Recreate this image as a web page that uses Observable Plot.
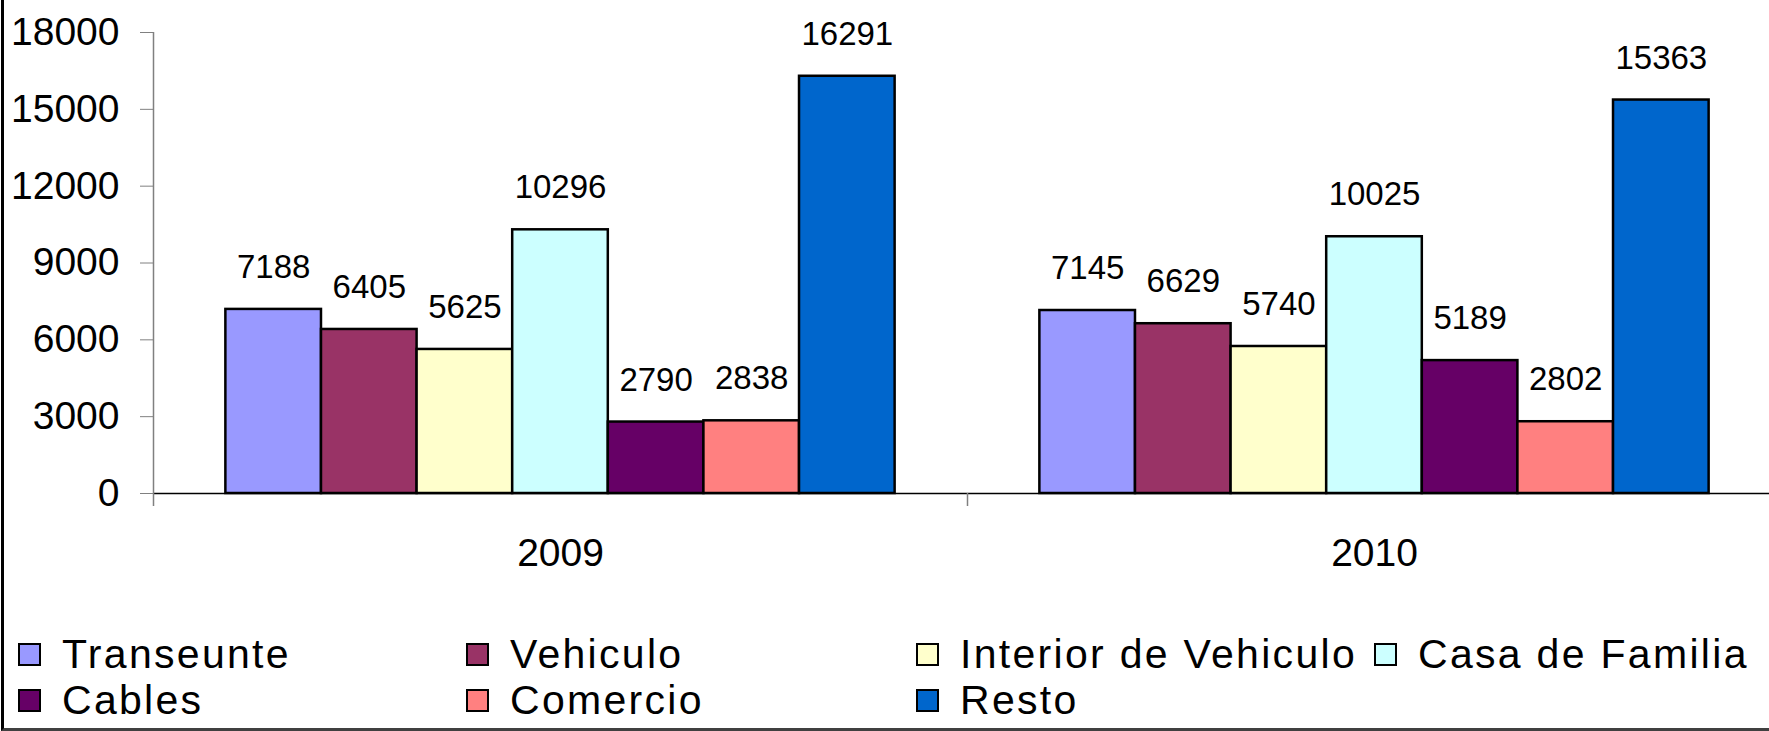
<!DOCTYPE html>
<html><head><meta charset="utf-8">
<script src="https://cdn.jsdelivr.net/npm/d3@7"></script>
<script src="https://cdn.jsdelivr.net/npm/@observablehq/plot@0.6"></script>
<style>
body{margin:0;background:#fff;}
#wrap{position:relative;width:1769px;height:731px;overflow:hidden;background:#fff;font-family:"Liberation Sans",Arial,sans-serif;}
#border{position:absolute;left:1px;top:-10px;width:2000px;height:741px;box-sizing:border-box;border-left:3px solid #000;border-bottom:3px solid #404040;pointer-events:none;}
#chart{position:absolute;left:0;top:0;width:1781px;}
#chart svg{max-width:none !important;}
#legend{position:absolute;left:18px;top:631px;display:grid;grid-template-columns:448px 450px 458px auto;grid-auto-rows:46px;font-size:41px;letter-spacing:2.3px;color:#000;}
.item{display:flex;align-items:center;white-space:nowrap;}
.sw{width:19px;height:19px;border:2px solid #000;margin-right:21px;flex:none;}
</style></head>
<body><div id="wrap"><div id="chart"></div><div id="legend"></div><div id="border"></div></div>
<script>
const years = ["2009", "2010"];
const series = ["Transeunte", "Vehiculo", "Interior de Vehiculo", "Casa de Familia", "Cables", "Comercio", "Resto"];
const colors = ["#9999FF", "#993366", "#FFFFCC", "#CCFFFF", "#660066", "#FF8080", "#0066CC"];
const values2009 = [7188, 6405, 5625, 10296, 2790, 2838, 16291];
const values2010 = [7145, 6629, 5740, 10025, 5189, 2802, 15363];
const yTicks = [0, 3000, 6000, 9000, 12000, 15000, 18000];

const rows = years.flatMap((yr, j) => series.map((s, i) => ({year: yr, series: s, value: (j === 0 ? values2009 : values2010)[i]})));

const W = 1781, mL = 153, mR = 0, H = 600, mT = 32, mB = 107;
const padOuter = 0.757;
const facetW = (W - mL - mR) / years.length;
const bw = facetW / (series.length + 2 * padOuter);
const edgeDx = -(padOuter + 0.5) * bw;

const bounds = [{year: "2009", top: 18000}, {year: "2010", top: 0}];

const chart = Plot.plot({
  width: W, height: H,
  marginLeft: mL, marginRight: mR, marginTop: mT, marginBottom: mB,
  style: {fontFamily: "'Liberation Sans', Arial, sans-serif", fontSize: "39px", background: "transparent", color: "#000", maxWidth: "none"},
  fx: {domain: years, padding: 0, round: false},
  x: {domain: series, paddingInner: 0, paddingOuter: padOuter, round: false, axis: null},
  y: {domain: [0, 18000], axis: null},
  color: {domain: series, range: colors},
  marks: [
    Plot.ruleY([0], {stroke: "#000", strokeWidth: 1.5}),
    Plot.ruleX(bounds, {fx: "year", x: () => series[0], y1: "top", y2: () => 0, dx: edgeDx, insetBottom: -13, stroke: "#808080", strokeWidth: 1.5}),
    Plot.axisY({ticks: yTicks, tickSize: 13, tickPadding: 21, tickFormat: d => String(d), fontSize: 39, stroke: "#808080", fill: "#000", label: null}),
    Plot.axisFx({anchor: "bottom", tickSize: 0, tickPadding: 45, fontSize: 39, label: null}),
    Plot.barY(rows, {fx: "year", x: "series", y: "value", fill: "series", stroke: "#000", strokeWidth: 2.5}),
    Plot.text(rows, {fx: "year", x: "series", y: "value", text: d => String(d.value), dy: -42, fontSize: 33, fill: "#000"})
  ]
});
document.getElementById("chart").appendChild(chart);

const colorScale = chart.scale("color");
const legend = document.getElementById("legend");
colorScale.domain.forEach((s, i) => {
  const item = document.createElement("div");
  item.className = "item";
  const sw = document.createElement("span");
  sw.className = "sw";
  sw.style.background = colorScale.range[i];
  const label = document.createElement("span");
  label.textContent = s;
  item.appendChild(sw);
  item.appendChild(label);
  legend.appendChild(item);
});
</script>
</body></html>
